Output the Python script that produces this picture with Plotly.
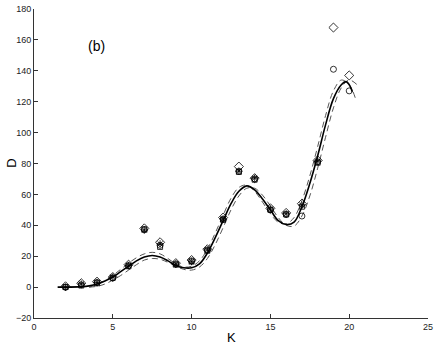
import plotly.graph_objects as go

# measured points (several runs, one marker type each)
k_pts = list(range(2, 21))
d_circle = [0, 1.5, 3, 6, 14, 37, 27, 15, 17, 24, 44, 75, 70, 50, 47, 46, 81, 141, 127]
d_diamond = [0.5, 2.5, 3.5, 6.5, 14.5, 38, 29, 15.5, 17.5, 24.5, 45, 78, 70.5, 51, 48, 54, 82, 168, 137]
d_square = [0, 1, 2.5, 6, 13.5, 37.5, 26, 14.5, 16.5, 23.5, 43.5, 74.5, 69.5, 50, 47, 52, 80.5, None, None]
d_star = [0, 2, 3, 6.5, 14, 37, 28, 15, 16.5, 24, 44, 75, 70.5, 50.5, 47.5, 53, 81.5, None, None]

# fitted curve (solid)
k_fit = [1.5, 2, 3, 3.5, 4, 4.5, 5, 5.5, 6, 6.5, 7, 7.5, 8, 8.5, 9, 9.5, 10, 10.5, 11, 11.5,
         12, 12.5, 13, 13.5, 14, 14.5, 15, 15.5, 16, 16.5, 17, 17.5, 18, 18.5, 19, 19.5, 19.8, 20, 20.2]
d_fit = [0, 0, 0.3, 0.8, 2, 4, 6.5, 10, 13.5, 17, 19.5, 20.5, 19.5, 17, 14, 12.5, 12.5, 15, 22, 32,
         43, 54, 62, 65.5, 63, 57, 50, 43, 40.5, 42, 52, 67, 85, 105, 122, 131, 133, 131, 126.5]

# bounds (dashed)
k_lo = [3.5, 4, 4.5, 5, 5.5, 6, 6.5, 7, 7.5, 8, 8.5, 9, 9.5, 10, 10.5, 11, 11.5, 12, 12.5, 13,
        13.5, 14, 14.5, 15, 15.5, 16, 16.5, 17, 17.5, 18, 18.5, 19, 19.5, 20, 20.4]
d_lo = [0, 1.5, 4, 7.5, 11.5, 15.5, 19, 21.5, 22.5, 21.5, 18.5, 15, 13, 13.5, 17, 24.5, 35, 46.5, 57.5, 64.5,
        66, 62, 55, 47.5, 42, 41, 45, 56, 72, 91, 111, 127, 134, 131, 122]
k_hi = [3.5, 4, 4.5, 5, 5.5, 6, 6.5, 7, 7.5, 8, 8.5, 9, 9.5, 10, 10.5, 11, 11.5, 12, 12.5, 13,
        13.5, 14, 14.5, 15, 15.5, 16, 16.5, 17, 17.5, 18, 18.5, 19, 19.5, 20, 20.5]
d_hi = [0, 0.5, 2, 4.5, 7.5, 11, 14.5, 17.5, 18.5, 18, 16, 13.5, 11.5, 11, 13, 18.5, 27.5, 38.5, 50, 59,
        64, 64, 59.5, 52.5, 45, 40, 39.5, 46, 59, 77, 97, 116, 129, 134, 131]

fig = go.Figure()

for kk, dd in [(k_lo, d_lo), (k_hi, d_hi)]:
    fig.add_trace(go.Scatter(x=kk, y=dd, mode="lines", line_shape="spline",
                             line=dict(color="#555", width=1, dash="6px,4px")))
fig.add_trace(go.Scatter(x=k_fit, y=d_fit, mode="lines", line_shape="spline",
                         line=dict(color="black", width=1.6)))

markers = [(d_circle, "circle-open", 6), (d_diamond, "diamond-open", 7),
           (d_square, "square-open", 5), (d_star, "asterisk-open", 6)]
for dd, sym, sz in markers:
    fig.add_trace(go.Scatter(x=k_pts, y=dd, mode="markers",
                             marker=dict(symbol=sym, size=sz, color="black",
                                         line=dict(color="black", width=0.8))))

fig.add_annotation(x=3.95, y=156, text="(b)", showarrow=False,
                   font=dict(size=14, color="black"))
# axis titles
fig.add_annotation(xref="paper", yref="paper", x=0.5, y=-0.064, yanchor="middle",
                   text="K", showarrow=False, font=dict(size=13, color="black"))
fig.add_annotation(xref="paper", yref="paper", x=-0.058, xanchor="center", y=0.5,
                   text="D", textangle=-90, showarrow=False, font=dict(size=13, color="black"))

axis_style = dict(showline=True, linecolor="#333", linewidth=1, ticks="inside", ticklen=4,
                  tickcolor="#333", showgrid=False, zeroline=False, mirror=False,
                  automargin=False, ticklabeloverflow="allow",
                  tickfont=dict(size=9, color="#222"))
fig.update_xaxes(range=[0, 25], tickvals=[0, 5, 10, 15, 20, 25], **axis_style)
fig.update_yaxes(range=[-20, 180], tickvals=list(range(-20, 181, 20)), **axis_style)

fig.update_layout(width=436, height=346, showlegend=False,
                  margin=dict(l=34, r=8, t=9, b=28),
                  plot_bgcolor="white", paper_bgcolor="white",
                  font=dict(family="Liberation Sans, Arial, sans-serif"))

# drop the page's default body margin so the figure sits at the window corner
fig.write_html("out.html", config={"displayModeBar": False},
               post_script="document.body.style.margin='0';")
